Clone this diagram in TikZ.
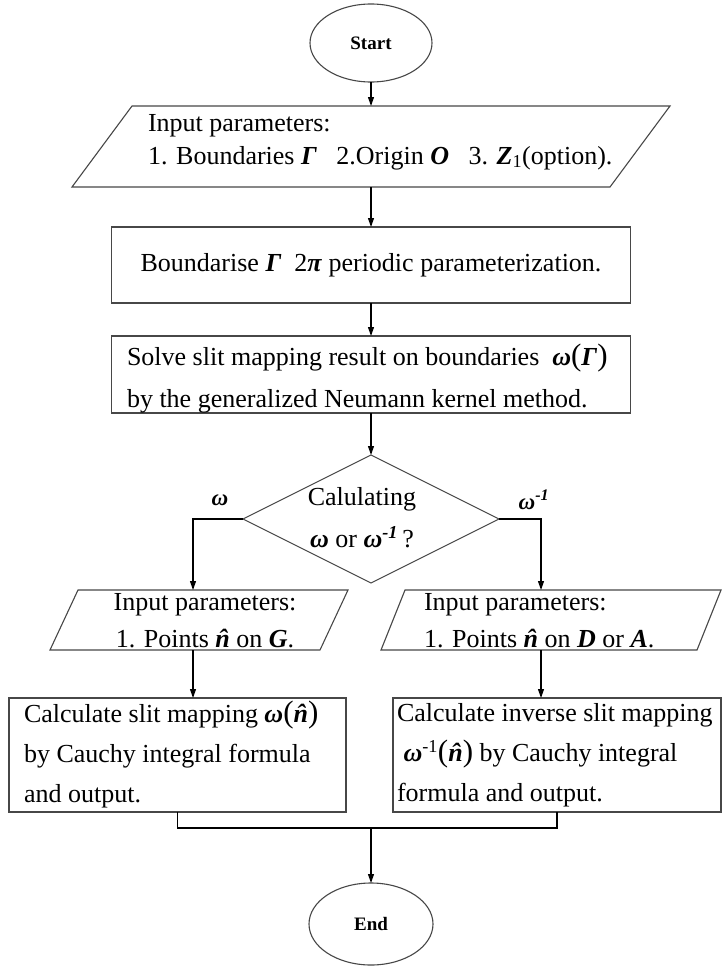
\documentclass[tikz,border=0pt]{standalone}
\usepackage{fontspec}
\setmainfont{Liberation Serif}
\usetikzlibrary{shapes.geometric,arrows.meta,calc}
\newcommand{\bfit}[1]{\textbf{\textit{#1}}}
\newcommand{\nhat}{\bfit{\ooalign{n\cr\hidewidth\char"02C6\hidewidth\cr}}}
\begin{document}
\begin{tikzpicture}[x=1pt,y=-1pt,
  every node/.style={inner sep=0pt, outer sep=0pt},
  shapeline/.style={draw=black!72, line width=1.1pt},
  conn/.style={line width=1.1pt, draw=black},
  arr/.style={conn, -{Triangle[length=9pt,width=6pt]}},
  term/.style={shapeline, ellipse, minimum width=122pt, minimum height=78pt, font=\fontsize{19}{22}\selectfont\bfseries},
  procbox/.style={shapeline, rectangle},
  txt/.style={font=\fontsize{26}{33}\selectfont},
  lbl/.style={font=\fontsize{23}{23}\selectfont},
  ghost/.style={rectangle, draw=none}
]
\useasboundingbox (0,0) rectangle (723,969);
\fill[white] (0,0) rectangle (723,969);

% Start
\node[term] (start) at (371,43) {Start};

% input parameters 1
\node[ghost, minimum width=538pt, minimum height=81pt] (in1) at (371,146.5) {};
\draw[shapeline] ([xshift=30pt]in1.north west) -- ([xshift=30pt]in1.north east) -- ([xshift=-30pt]in1.south east) -- ([xshift=-30pt]in1.south west) -- cycle;
\node[txt, anchor=west, align=left] (in1t) at (148,142) {Input parameters:\\1. Boundaries \bfit{Γ}\ \ \ 2.Origin \bfit{O}\ \ \ 3. \bfit{Z}\textsubscript{1}(option).};

% box 2
\node[procbox, txt, minimum width=519pt, minimum height=76pt] (b2) at (371,265) {Boundarise \bfit{Γ}\ \ 2\bfit{π} periodic parameterization.};

% box 3
\node[procbox, minimum width=519pt, minimum height=77pt] (b3) at (371,374.5) {};
\node[txt, anchor=west, align=left, font=\fontsize{26}{42}\selectfont] (b3t) at (127,379) {Solve slit mapping result on boundaries\ \ \bfit{ω}{\fontsize{31}{31}\selectfont(}\bfit{Γ}{\fontsize{31}{31}\selectfont)}\\by the generalized Neumann kernel method.};

% decision
\node[shapeline, diamond, minimum width=256pt, minimum height=128pt] (dia) at (371,519) {};
\node[txt, align=center, font=\fontsize{26}{42}\selectfont] (diat) at (362,518) {Calulating\\\bfit{ω} or \bfit{ω}\textsuperscript{\bfit{-1}}\,?};
\node[lbl] (lw) at (220,500) {\bfit{ω}};
\node[lbl] (lwi) at (534,500) {\bfit{ω}\textsuperscript{\bfit{-1}}};

% input parameters 2 (left)
\node[ghost, minimum width=270pt, minimum height=60pt] (in2) at (199,620) {};
\draw[shapeline] ([xshift=14pt]in2.north west) -- ([xshift=14pt]in2.north east) -- ([xshift=-14pt]in2.south east) -- ([xshift=-14pt]in2.south west) -- cycle;
\node[txt, align=center, font=\fontsize{26}{37}\selectfont] (in2t) at (205,621) {Input parameters:\\1. Points \nhat\ on \bfit{G}.};

% input parameters 3 (right)
\node[ghost, minimum width=316pt, minimum height=60pt] (in3) at (551,620) {};
\draw[shapeline] ([xshift=12pt]in3.north west) -- ([xshift=12pt]in3.north east) -- ([xshift=-12pt]in3.south east) -- ([xshift=-12pt]in3.south west) -- cycle;
\node[txt, anchor=west, align=left, font=\fontsize{26}{37}\selectfont] (in3t) at (424,621) {Input parameters:\\1. Points \nhat\ on \bfit{D} or \bfit{A}.};

% calculation boxes
\node[procbox, minimum width=337pt, minimum height=114pt] (lb) at (177.5,755) {};
\node[txt, anchor=west, align=left, font=\fontsize{26}{40}\selectfont] (lbt) at (24,755) {Calculate slit mapping \bfit{ω}{\fontsize{31}{31}\selectfont(}\nhat{\fontsize{31}{31}\selectfont)}\\by Cauchy integral formula\\and output.};
\node[procbox, minimum width=328pt, minimum height=114pt] (rb) at (557,755) {};
\node[txt, anchor=west, align=left, font=\fontsize{26}{40}\selectfont] (rbt) at (397,755) {Calculate inverse slit mapping\\\ \bfit{ω}\textsuperscript{-1}{\fontsize{31}{31}\selectfont(}\nhat{\fontsize{31}{31}\selectfont)} by Cauchy integral\\formula and output.};

% End
\coordinate (m) at (371,828);
\node[term, minimum width=124pt, minimum height=82pt] (end) at (371,924) {End};

% connectors
\draw[arr] (start.south) -- (in1.north);
\draw[arr] (in1.south) -- (b2.north);
\draw[arr] (b2.south) -- (b3.north);
\draw[arr] (b3.south) -- (dia.north);
\draw[arr] (dia.west) -| ([xshift=-6pt]in2.north);
\draw[arr] (dia.east) -| ([xshift=-10pt]in3.north);
\draw[arr] ([xshift=-6pt]in2.south) -- ([xshift=-6pt]in2.south |- lb.north);
\draw[arr] ([xshift=-10pt]in3.south) -- ([xshift=-10pt]in3.south |- rb.north);
\draw[conn] (lb.south) |- (m);
\draw[conn] (rb.south) |- (m);
\draw[arr] (m) -- (end.north);
\end{tikzpicture}
\end{document}
